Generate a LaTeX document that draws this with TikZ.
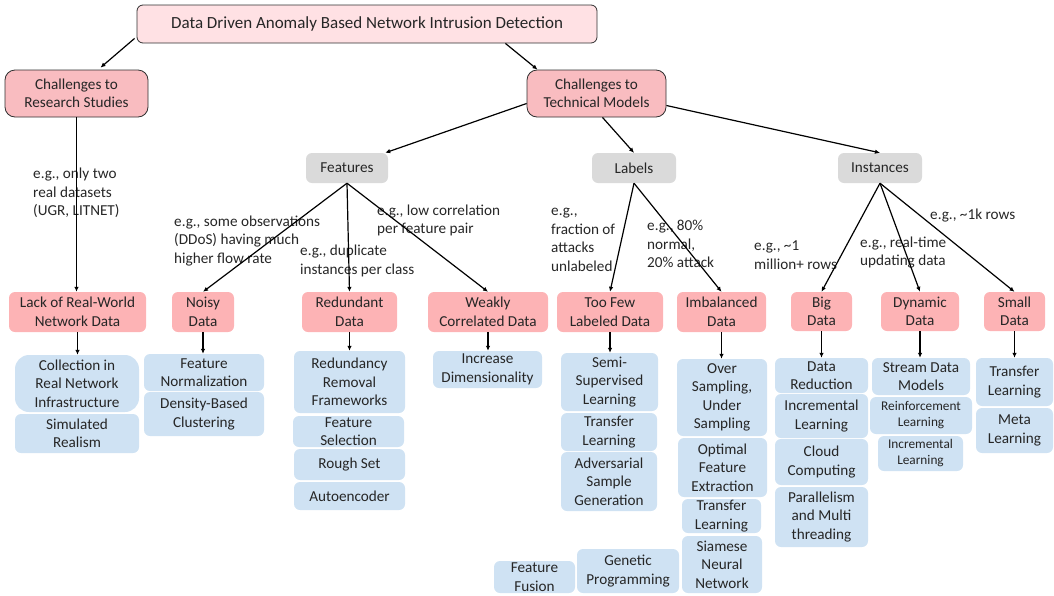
\documentclass[tikz,border=0pt]{standalone}
\usepackage{fontspec}
\setmainfont{Carlito}
\usetikzlibrary{arrows.meta,calc}
\definecolor{topPink}{HTML}{FFE1E4}
\definecolor{chPink}{HTML}{F9BCC0}
\definecolor{lvPink}{HTML}{FDB3B5}
\definecolor{catGray}{HTML}{DADADA}
\definecolor{lBlue}{HTML}{CFE2F3}
\definecolor{txt}{HTML}{262626}
\definecolor{edge}{HTML}{303030}
\newcommand{\mybox}[7]{\node[#1, minimum width={#4-#2}, minimum height={#5-#3}] (#6) at ({(#2+#4)/2},{(#3+#5)/2}) {#7};}
\begin{document}
\begin{tikzpicture}[x=1pt,y=-1pt,
  every node/.style={text=txt, font=\fontsize{15.2}{18.5}\selectfont},
  bx/.style={rounded corners=6pt, inner sep=0pt, align=center},
  topbox/.style={bx, fill=topPink, draw=edge, line width=0.8pt, font=\fontsize{17}{20}\selectfont},
  chbox/.style={bx, fill=chPink, draw=edge, line width=0.8pt, rounded corners=10pt},
  catbox/.style={bx, fill=catGray},
  lvbox/.style={bx, fill=lvPink},
  bluebox/.style={bx, fill=lBlue},
  bigblue/.style={bx, fill=lBlue, rounded corners=14pt},
  smallfont/.style={font=\fontsize{13.3}{16}\selectfont},
  note/.style={anchor=west, align=left, inner sep=0pt},
  arr/.style={draw=black, line width=1.2pt, -{Latex[length=5pt,width=4.5pt]}}]
\useasboundingbox (0,0) rectangle (1054,595);

% level 0-2
\mybox{topbox}{137}{5}{597}{43}{top}{Data Driven Anomaly Based Network Intrusion Detection}
\mybox{chbox}{5}{70}{148}{117}{res}{Challenges to\\Research Studies}
\mybox{chbox}{527}{70}{666}{117}{tech}{Challenges to\\Technical Models}
\mybox{catbox}{306}{153}{388}{183}{feat}{Features}
\mybox{catbox}{592}{153}{676}{183}{lab}{Labels}
\mybox{catbox}{838}{153}{922}{183}{inst}{Instances}

% level 3
\mybox{lvbox}{9}{292}{146}{332}{lack}{Lack of Real-World\\Network Data}
\mybox{lvbox}{172}{292}{234}{332}{noisy}{Noisy\\Data}
\mybox{lvbox}{302}{292}{397}{332}{red}{Redundant\\Data}
\mybox{lvbox}{428}{292}{548}{332}{weak}{Weakly\\Correlated Data}
\mybox{lvbox}{557}{292}{663}{332}{few}{Too Few\\Labeled Data}
\mybox{lvbox}{677}{292}{766}{332}{imb}{Imbalanced\\Data}
\mybox{lvbox}{791}{292}{852}{331}{big}{Big\\Data}
\mybox{lvbox}{881}{292}{959}{331}{dyn}{Dynamic\\Data}
\mybox{lvbox}{984}{292}{1045}{331}{small}{Small\\Data}

% notes
\node[note] (n1) at (33,193) {e.g., only two\\real datasets\\(UGR, LITNET)};
\node[note] (n2) at (174,241) {e.g., some observations\\(DDoS) having much\\higher flow rate};
\node[note] (n3) at (300,261) {e.g., duplicate\\instances per class};
\node[note] (n4) at (377,220.5) {e.g., low correlation\\per feature pair};
\node[note] (n5) at (551,240) {e.g.,\\fraction of\\attacks\\unlabeled};
\node[note] (n6) at (647,244) {e.g., 80\%\\normal,\\20\% attack};
\node[note] (n7) at (754,255) {e.g., \textasciitilde1\\million+ rows};
\node[note] (n8) at (860,252.5) {e.g., real-time\\updating data};
\node[note] (n9) at (930,216) {e.g., \textasciitilde1k rows};

% blue boxes
\mybox{bigblue}{15}{355}{139}{412}{coll}{Collection in\\Real Network\\Infrastructure}
\mybox{bluebox}{15}{414}{139}{453}{sim}{Simulated\\Realism}
\mybox{bluebox}{144}{354}{264}{391}{fnorm}{Feature\\Normalization}
\mybox{bluebox}{144}{392}{264}{436}{dens}{Density-Based\\Clustering}
\mybox{bluebox}{294}{351}{405}{413}{rrf}{Redundancy\\Removal\\Frameworks}
\mybox{bluebox}{293}{416}{404}{447}{fsel}{Feature\\Selection}
\mybox{bluebox}{294}{449}{405}{480}{rough}{Rough Set}
\mybox{bluebox}{294}{482}{405}{510}{auto}{Autoencoder}
\mybox{bluebox}{433}{351}{542}{388}{incdim}{Increase\\Dimensionality}
\mybox{bluebox}{561}{353}{658}{411}{semi}{Semi-\\Supervised\\Learning}
\mybox{bluebox}{561}{413}{657}{451}{tl1}{Transfer\\Learning}
\mybox{bluebox}{561}{452}{657}{511}{adv}{Adversarial\\Sample\\Generation}
\mybox{bluebox}{677}{359}{767}{436}{over}{Over\\Sampling,\\Under\\Sampling}
\mybox{bluebox}{678}{438}{767}{497}{opt}{Optimal\\Feature\\Extraction}
\mybox{bluebox}{682}{499}{761}{533}{tl2}{Transfer\\Learning}
\mybox{bluebox}{682}{536}{762}{593}{siam}{Siamese\\Neural\\Network}
\mybox{bluebox}{494}{561}{575}{593}{ffus}{Feature\\Fusion}
\mybox{bluebox}{577}{549}{679}{593}{gen}{Genetic\\Programming}
\mybox{bluebox}{775}{358}{868}{393}{dred}{Data\\Reduction}
\mybox{bluebox}{775}{394}{868}{438}{inc1}{Incremental\\Learning}
\mybox{bluebox}{775}{439}{868}{485}{cloud}{Cloud\\Computing}
\mybox{bluebox}{775}{487}{868}{547}{par}{Parallelism\\and Multi\\threading}
\mybox{bluebox}{872}{358}{970}{395}{stream}{Stream Data\\Models}
\mybox{bluebox,smallfont}{870}{397}{972}{434}{reinf}{Reinforcement\\Learning}
\mybox{bluebox,smallfont}{878}{436}{963}{471}{inc2}{Incremental\\Learning}
\mybox{bluebox}{976}{358}{1053}{406}{tl3}{Transfer\\Learning}
\mybox{bluebox}{976}{408}{1053}{453}{meta}{Meta\\Learning}

% connectors
\draw[arr] ($(top.south west)+(-2,-5)$) -- ($(res.north)+(24,-2)$);
\draw[arr] ($(top.south east)+(-92,0)$) -- ($(tech.north)+(-59,0)$);
\draw[arr] (res.south) -- (res.south |- lack.north);
\draw[arr] ($(tech.west)+(0,10)$) -- ($(feat.north east)+(-3,0)$);
\draw[arr] ($(tech.south)+(6,0)$) -- (lab.north);
\draw[arr] ($(tech.east)+(0,12)$) -- (inst.north);
\draw[arr] (feat.south) -- (noisy.north);
\draw[arr] (feat.south) -- (red.north);
\draw[arr] (feat.south) -- (weak.north);
\draw[arr] (lab.south) -- (few.north);
\draw[arr] (lab.south) -- (imb.north);
\draw[arr] (inst.south) -- (big.north);
\draw[arr] (inst.south) -- (dyn.north);
\draw[arr] (inst.south) -- (small.north);
\draw[arr] (lack.south) -- (lack.south |- coll.north);
\draw[arr] (noisy.south) -- (noisy.south |- fnorm.north);
\draw[arr] (red.south) -- (red.south |- rrf.north);
\draw[arr] (weak.south) -- (weak.south |- incdim.north);
\draw[arr] (few.south) -- (few.south |- semi.north);
\draw[arr] (imb.south) -- (imb.south |- over.north);
\draw[arr] (big.south) -- (big.south |- dred.north);
\draw[arr] (dyn.south) -- (dyn.south |- stream.north);
\draw[arr] (small.south) -- (small.south |- tl3.north);
\end{tikzpicture}
\end{document}
